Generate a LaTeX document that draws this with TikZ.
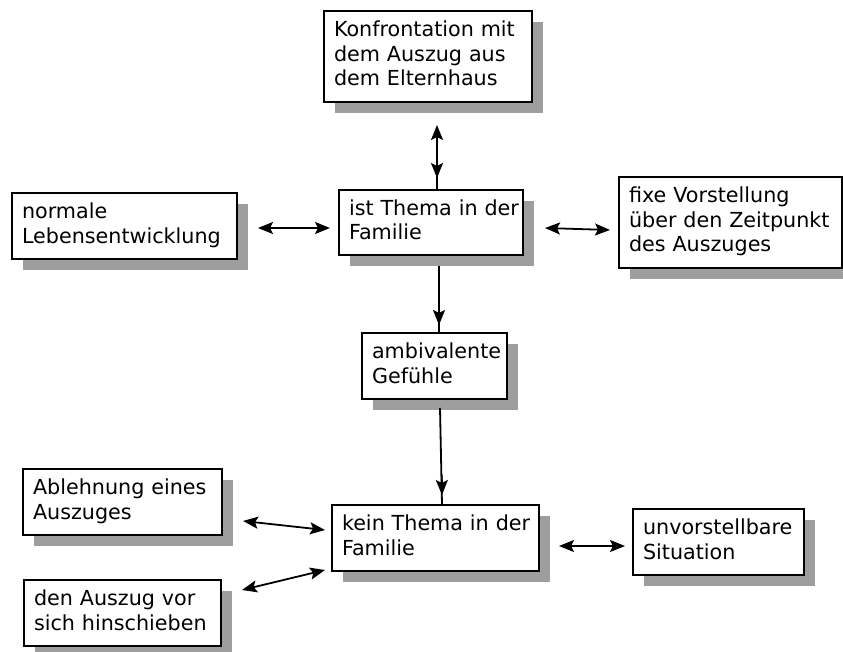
\documentclass[tikz,border=0pt]{standalone}
\usepackage{fontspec}
\setmainfont{DejaVu Sans}
\usetikzlibrary{arrows.meta,calc,shadows}
\definecolor{shadowgray}{gray}{0.62}
\newcommand{\lines}[1]{\begin{tabular}{@{}l@{}}#1\end{tabular}}
\tikzset{
  boxnode/.style n args={2}{draw=black, line width=1.6pt, fill=white, outer sep=0pt,
    inner xsep=10pt, inner ysep=0pt, align=left,
    text width=#1pt-20pt, minimum width=#1pt, minimum height=#2pt,
    font=\fontsize{20.7}{24.5}\selectfont,
    drop shadow={shadow xshift=11pt, shadow yshift=-11pt, fill=shadowgray, opacity=1, draw=none}},
  conn/.style={line width=1.8pt, draw=black},
}
\begin{document}
\begin{tikzpicture}[x=1pt,y=-1pt,>={Stealth[length=15pt,width=12pt,inset=3pt]}]
\useasboundingbox (0,0) rectangle (843,652);
\node[boxnode={208}{91}] (konf) at (428,56.5) {\lines{Konfrontation mit\\dem Auszug aus\\dem Elternhaus}};
\node[boxnode={225}{66}] (normale) at (124.5,226) {\lines{normale\\Lebensentwicklung}};
\node[boxnode={184}{65}] (ist) at (431,222.5) {\lines{ist Thema in der\\Familie}};
\node[boxnode={223}{91}] (fixe) at (730.5,222.5) {\lines{fixe Vorstellung\\über den Zeitpunkt\\des Auszuges}};
\node[boxnode={145}{66}] (ambi) at (434.5,366) {\lines{ambivalente\\Gefühle}};
\node[boxnode={207}{66}] (kein) at (435.5,538) {\lines{kein Thema in der\\Familie}};
\node[boxnode={171}{66}] (unvor) at (718.5,542) {\lines{unvorstellbare\\Situation}};
\node[boxnode={199}{66}] (ablehnung) at (122.5,502) {\lines{Ablehnung eines\\Auszuges}};
\node[boxnode={197}{66}] (den) at (122.5,613) {\lines{den Auszug vor\\sich hinschieben}};

% konf <-> ist
\draw[conn,<-] ($(konf.south)+(9,23)$) -- ($(ist.north)+(6,0)$);
\draw[conn,->] ($(ist.north)+(6,-30)$) -- ($(ist.north)+(6,-12)$);
% ist -> ambi
\draw[conn] ($(ist.south)+(8,11)$) -- ($(ambi.north)+(4.5,0)$);
\draw[conn,->] ($(ambi.north)+(4.5,-25)$) -- ($(ambi.north)+(4.5,-8)$);
% ambi -> kein
\draw[conn] ($(ambi.south)+(5.5,9)$) -- ($(kein.north)+(6.5,0)$);
\draw[conn,->] ($(kein.north)+(6.3,-30)$) -- ($(kein.north)+(6.5,-10)$);
% horizontal
\draw[conn,<->] ($(normale.east)+(21,2)$) -- ($(ist.west)+(-9,5.5)$);
\draw[conn,<->] ($(ist.east)+(22,5.5)$) -- ($(fixe.west)+(-9,7.5)$);
\draw[conn,<->] ($(kein.east)+(20,8)$) -- ($(unvor.west)+(-8,4)$);
\draw[conn,<->] ($(ablehnung.east)+(21,19)$) -- ($(kein.west)+(-7,-8)$);
\draw[conn,<->] ($(den.east)+(21,-23)$) -- ($(kein.west)+(-7,32)$);
\end{tikzpicture}
\end{document}
